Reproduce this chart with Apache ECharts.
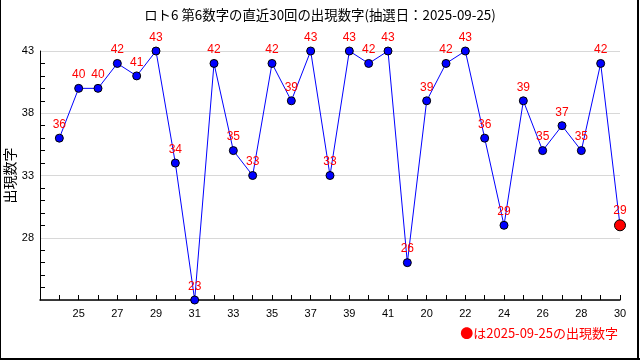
<!DOCTYPE html>
<html>
<head>
<meta charset="utf-8">
<script src="https://cdn.jsdelivr.net/npm/echarts@6/dist/echarts.min.js"></script>
<style>html,body{margin:0;padding:0;background:#fff}#c{width:640px;height:360px}</style>
</head>
<body>
<div id="c"></div>
<script>
var titleText = 'ロト6 第6数字の直近30回の出現数字(抽選日：2025-09-25)';
var yName = '出現数字';
var noteText = '●は2025-09-25の出現数字';
var categories = ['24','25','26','27','28','29','30','31','32','33','34','35','36','37','38','39','40','41','42','20','21','22','23','24','25','26','27','28','29','30'];
var values = [36,40,40,42,41,43,34,23,42,35,33,42,39,43,33,43,42,43,26,39,42,43,36,29,39,35,37,35,42,29];
var yMin = 23, yMax = 43, yStep = 5;

var xData = [''].concat(categories);
var seriesData = [null].concat(values.map(function(v, i){
  if (i === values.length - 1) {
    return {value: v, symbolSize: 11, itemStyle: {color: '#ff0000', borderColor: '#000', borderWidth: 1}};
  }
  return v;
}));

var chart = echarts.init(document.getElementById('c'), null, {renderer: 'canvas'});
var font = 'Noto Sans CJK JP';
chart.setOption({
  animation: false,
  backgroundColor: '#fff',
  textStyle: {fontFamily: font},
  title: {text: titleText, left: 'center', top: 3,
    textStyle: {fontSize: 13.4, fontWeight: 'normal', color: '#000', fontFamily: font}},
  grid: {left: 40, right: 20, top: 51, bottom: 60, containLabel: false, outerBoundsMode: 'none'},
  xAxis: {
    type: 'category', data: xData, boundaryGap: false,
    axisLine: {lineStyle: {color: '#000', width: 1.5}},
    axisTick: {inside: true, length: 5, interval: 0, lineStyle: {color: '#000'}},
    axisLabel: {interval: 1, color: '#000', fontSize: 11, margin: 8, fontFamily: 'Liberation Sans'},
    splitLine: {show: false}
  },
  yAxis: {
    type: 'value', min: yMin, max: yMax, interval: yStep,
    name: yName, nameLocation: 'middle', nameRotate: 90, nameGap: 23, nameMoveOverlap: false,
    nameTextStyle: {color: '#000', fontSize: 14, fontFamily: font},
    axisLine: {show: true, lineStyle: {color: '#000', width: 1}},
    axisTick: {inside: true, length: 5, lineStyle: {color: '#000'}},
    minorTick: {show: true, splitNumber: 5, length: 5, lineStyle: {color: '#000'}},
    axisLabel: {showMinLabel: false, color: '#000', fontSize: 11, margin: 6, fontFamily: 'Liberation Sans'},
    splitLine: {show: true, lineStyle: {color: '#d8d8d8', width: 1}}
  },
  series: [{
    type: 'line', data: seriesData,
    lineStyle: {color: '#0000ff', width: 1},
    symbol: 'circle', symbolSize: 8,
    itemStyle: {color: '#0000ff', borderColor: '#000', borderWidth: 1},
    label: {show: true, position: 'top', distance: 3, color: '#ff0000', fontSize: 12, fontFamily: 'Liberation Sans'}
  }],
  graphic: [
    {type: 'text', right: 22, top: 327, style: {text: noteText, fill: '#ff0000', font: '13px "Noto Sans CJK JP"'}},
    {type: 'line', shape: {x1: 0.5, y1: 0, x2: 0.5, y2: 360}, style: {stroke: '#000', lineWidth: 1}},
    {type: 'line', shape: {x1: 638, y1: 0, x2: 638, y2: 360}, style: {stroke: '#000', lineWidth: 2}},
    {type: 'line', shape: {x1: 0, y1: 359, x2: 640, y2: 359}, style: {stroke: '#000', lineWidth: 2}}
  ]
});
</script>
</body>
</html>
